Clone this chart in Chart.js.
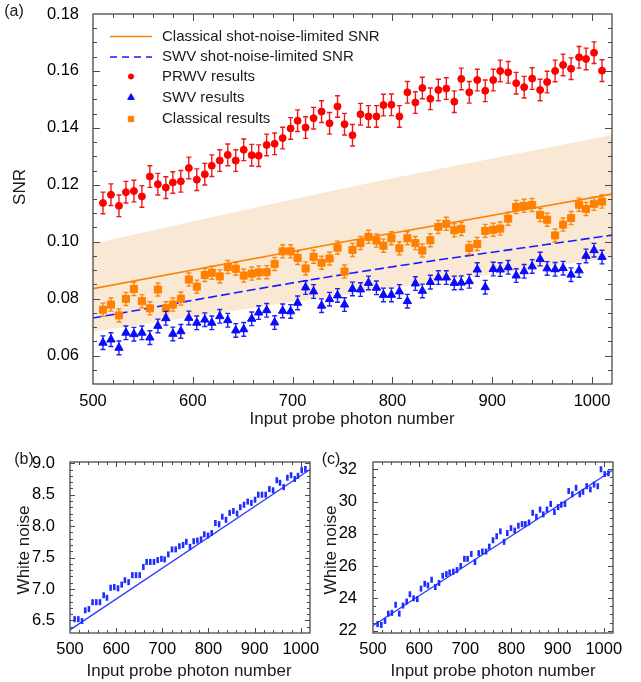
<!DOCTYPE html>
<html>
<head>
<meta charset="utf-8">
<script src="https://cdn.jsdelivr.net/npm/chart.js@4.4.0/dist/chart.umd.min.js"></script>
<style>
body{margin:0;background:#fff;width:641px;height:682px;position:relative;overflow:hidden}
.panel{position:absolute}
</style>
</head>
<body>
<div class="panel" style="left:0;top:0;width:641px;height:440px"><canvas id="snr" width="641" height="440"></canvas></div>
<div class="panel" style="left:0;top:440px;width:320px;height:242px"><canvas id="wnb" width="320" height="242"></canvas></div>
<div class="panel" style="left:320px;top:440px;width:321px;height:242px"><canvas id="wnc" width="321" height="242"></canvas></div>
<script>
const FONT="'Liberation Sans', Arial, Helvetica, sans-serif";
Chart.defaults.font.family=FONT;
Chart.defaults.color='#000';

// input probe photon numbers, shared by the three panels
const photons=[510,518,526,533,541,549,557,565,573,580,588,596,604,612,619,627,635,643,651,659,
  666,674,682,690,698,705,713,721,729,737,745,752,760,768,776,784,791,799,807,815,
  823,830,838,846,854,862,869,877,885,893,901,908,916,924,932,940,948,955,963,971,
  979,987,994,1002,1010];

// (a) measured SNR
const prwv=[0.1136,0.1165,0.1126,0.1174,0.1178,0.1159,0.1229,0.1202,0.1190,0.1208,0.1212,0.1259,0.1218,0.1237,0.1267,0.1285,
  0.1305,0.1285,0.1323,0.1304,0.1302,0.1340,0.1344,0.1364,0.1398,0.1425,0.1401,0.1434,0.1457,0.1416,0.1475,0.1413,
  0.1374,0.1448,0.1440,0.1440,0.1480,0.1481,0.1440,0.1525,0.1489,0.1540,0.1502,0.1533,0.1538,0.1492,0.1572,0.1525,
  0.1568,0.1530,0.1568,0.1600,0.1595,0.1557,0.1543,0.1573,0.1533,0.1561,0.1600,0.1621,0.1608,0.1648,0.1642,0.1664,0.1601];
const classical=[0.0761,0.0779,0.0741,0.0799,0.0834,0.0791,0.0766,0.0832,0.0766,0.0779,0.0800,0.0867,0.0842,0.0883,0.0891,0.0878,
  0.0911,0.0905,0.0881,0.0888,0.0892,0.0893,0.0922,0.0966,0.0966,0.0943,0.0906,0.0947,0.0926,0.0941,0.0979,0.0895,
  0.0971,0.0995,0.1017,0.1004,0.0986,0.1012,0.0977,0.1012,0.0995,0.0969,0.1005,0.1052,0.1063,0.1040,0.1045,0.0978,
  0.0992,0.1038,0.1042,0.1046,0.1081,0.1122,0.1126,0.1129,0.1094,0.1077,0.1022,0.1060,0.1083,0.1130,0.1115,0.1133,0.1141];
const swv=[0.0645,0.0656,0.0627,0.0680,0.0675,0.0680,0.0663,0.0704,0.0731,0.0676,0.0685,0.0732,0.0715,0.0726,0.0715,0.0738,
  0.0724,0.0688,0.0692,0.0729,0.0751,0.0759,0.0716,0.0757,0.0755,0.0785,0.0839,0.0825,0.0775,0.0798,0.0811,0.0779,
  0.0834,0.0832,0.0855,0.0838,0.0813,0.0813,0.0825,0.0791,0.0853,0.0827,0.0858,0.0874,0.0874,0.0855,0.0856,0.0861,
  0.0902,0.0840,0.0904,0.0902,0.0910,0.0881,0.0896,0.0913,0.0939,0.0906,0.0903,0.0907,0.0884,0.0899,0.0950,0.0970,0.0946];
const errPrwv=0.0038, errClassical=0.0023, errSwv=0.0024;

// (a) shot-noise-limited curves and shaded band
const theoryX=[500,760,1020];
const classicalShot=[0.0835,0.1005,0.1167];
const swvShot=[0.0732,0.0890,0.1023];
const bandUpper=[0.0993,0.1194,0.1375];
const bandLower=[0.0684,0.0818,0.0944];

// (b), (c) white noise
const noiseB=[6.52,6.52,6.49,6.66,6.68,6.79,6.79,6.79,6.90,6.86,7.02,7.03,7.01,7.07,7.14,7.11,7.22,7.22,7.22,7.35,
  7.43,7.43,7.43,7.46,7.48,7.47,7.55,7.63,7.63,7.68,7.70,7.75,7.67,7.76,7.77,7.79,7.87,7.85,7.89,8.05,
  8.03,8.15,8.10,8.21,8.24,8.20,8.30,8.34,8.39,8.37,8.42,8.50,8.50,8.50,8.59,8.57,8.73,8.69,8.62,8.77,
  8.81,8.75,8.80,8.89,8.91];
const noiseC=[22.40,22.35,22.60,23.05,23.10,23.60,23.05,23.55,23.80,24.25,24.00,23.95,24.60,24.90,24.80,25.15,24.70,24.95,25.40,25.50,
  25.60,25.65,25.75,26.00,26.45,26.45,26.75,26.25,26.80,26.90,26.90,27.20,27.60,27.85,28.15,27.50,28.05,28.35,28.20,28.50,
  28.60,28.60,28.70,29.30,29.05,29.50,29.20,29.50,29.85,29.35,29.65,29.80,29.85,30.65,30.45,30.85,30.45,30.60,30.95,30.75,
  31.05,30.95,32.00,31.70,31.75];
const fitX=[500,1020];
const fitB=[6.35,8.90];
const fitC=[22.3,31.95];

// tick labels
const photonTicks=[500,600,700,800,900,1000];
const snrTicks=[0.06,0.08,0.10,0.12,0.14,0.16,0.18];
const noiseBTicks=[6.5,7.0,7.5,8.0,8.5,9.0];
const noiseCTicks=[22,24,26,28,30,32];

const pts=(xs,ys)=>xs.map((x,i)=>({x:x,y:ys[i]}));

// error bars drawn just before each dataset's markers
const errorBars={
  id:'errorBars',
  beforeDatasetDraw(chart,args){
    const ds=chart.data.datasets[args.index];
    if(!ds.errors) return;
    const y=chart.scales.y, ctx=chart.ctx;
    ctx.save();
    ctx.strokeStyle=ds.errorColor;
    ctx.lineWidth=1.4;
    args.meta.data.forEach((p,i)=>{
      const v=ds.data[i].y;
      const t=y.getPixelForValue(v+ds.errors), b=y.getPixelForValue(v-ds.errors);
      ctx.beginPath();
      ctx.moveTo(p.x,t); ctx.lineTo(p.x,b);
      ctx.moveTo(p.x-2.5,t); ctx.lineTo(p.x+2.5,t);
      ctx.moveTo(p.x-2.5,b); ctx.lineTo(p.x+2.5,b);
      ctx.stroke();
    });
    ctx.restore();
  }
};

// frame with inward ticks on all four sides
const frame={
  id:'frame',
  afterDatasetsDraw(chart,args,o){
    const {ctx,chartArea:a,scales:{x,y}}=chart;
    const isMajor=(s,v)=>s.ticks.some(t=>Math.abs(t.value-v)<1e-7);
    ctx.save();
    ctx.strokeStyle='#4a4a4a';
    ctx.lineWidth=1.3;
    ctx.strokeRect(a.left,a.top,a.right-a.left,a.bottom-a.top);
    ctx.lineWidth=1;
    ctx.beginPath();
    for(let v=Math.ceil(x.min/o.xStep-1e-6)*o.xStep; v<=x.max+1e-9; v+=o.xStep){
      const px=Math.round(x.getPixelForValue(v))+0.5;
      if(Math.abs(px-a.left)<1.5||Math.abs(px-a.right)<1.5) continue;
      const len=isMajor(x,v)?o.major:o.minor;
      ctx.moveTo(px,a.bottom); ctx.lineTo(px,a.bottom-len);
      ctx.moveTo(px,a.top); ctx.lineTo(px,a.top+len);
    }
    const n=Math.round((y.max-y.min)/o.yStep)+1;
    const y0=Math.ceil(y.min/o.yStep-1e-6);
    for(let k=0;k<=n;k++){
      const v=(y0+k)*o.yStep;
      if(v>y.max+1e-9) break;
      const py=Math.round(y.getPixelForValue(v))+0.5;
      if(Math.abs(py-a.top)<1.5||Math.abs(py-a.bottom)<1.5) continue;
      const len=isMajor(y,v)?o.major:o.minor;
      ctx.moveTo(a.left,py); ctx.lineTo(a.left+len,py);
      ctx.moveTo(a.right,py); ctx.lineTo(a.right-len,py);
    }
    ctx.stroke();
    ctx.restore();
  }
};

// axis titles, panel letters and the inset legend
const texts={
  id:'texts',
  afterDraw(chart,args,o){
    const ctx=chart.ctx;
    ctx.save();
    ctx.fillStyle='#1a1a1a';
    ctx.textBaseline='middle';
    (o.items||[]).forEach(it=>{
      ctx.save();
      ctx.font=(it.size||17)+'px '+FONT;
      ctx.textAlign='center';
      ctx.translate(it.x,it.y);
      if(it.rot) ctx.rotate(it.rot);
      ctx.fillText(it.t,0,0);
      ctx.restore();
    });
    const lg=o.legend;
    if(lg){
      lg.entries.forEach((e,i)=>{
        const ry=lg.rows[i];
        ctx.save();
        if(e.kind==='line'){
          ctx.strokeStyle=e.color; ctx.lineWidth=1.6; ctx.setLineDash(e.dash||[]);
          ctx.beginPath(); ctx.moveTo(lg.x0,ry); ctx.lineTo(lg.x1,ry); ctx.stroke();
        }else{
          ctx.fillStyle=e.color; ctx.strokeStyle=e.color;
          Chart.helpers.drawPoint(ctx,{pointStyle:e.style,radius:e.r,rotation:0,borderWidth:1},lg.mx,ry);
        }
        ctx.restore();
        ctx.font='15px '+FONT;
        ctx.textAlign='left';
        ctx.fillText(e.text,lg.tx,ry);
      });
    }
    ctx.restore();
  }
};

function xAxis(h,pad){
  return {type:'linear',min:500,max:1020,
    afterBuildTicks:s=>{s.ticks=photonTicks.map(v=>({value:v}));},
    afterFit:s=>{s.height=h;s.paddingLeft=0;s.paddingRight=0;},
    grid:{display:false},border:{display:false},
    ticks:{padding:pad,autoSkip:false,maxRotation:0,minRotation:0,font:{size:16.5},color:'#000',
      callback:v=>String(v)}};
}
function yAxis(min,max,vals,w,pad,dec){
  return {type:'linear',min:min,max:max,
    afterBuildTicks:s=>{s.ticks=vals.map(v=>({value:v}));},
    afterFit:s=>{s.width=w;s.paddingTop=0;s.paddingBottom=0;},
    grid:{display:false},border:{display:false},
    ticks:{padding:pad,autoSkip:false,font:{size:16.5},color:'#000',
      callback:v=>Number(v).toFixed(dec)}};
}
const base={responsive:false,animation:false,events:[]};

new Chart(document.getElementById('snr'),{
  type:'scatter',
  data:{datasets:[
    {data:pts(photons,prwv),pointStyle:'circle',pointRadius:3.5,pointBorderWidth:1,
      pointBackgroundColor:'#ff0000',pointBorderColor:'#ff0000',errors:errPrwv,errorColor:'rgba(235,0,0,0.9)'},
    {data:pts(photons,swv),pointStyle:'triangle',pointRadius:4.8,pointBorderWidth:1,
      pointBackgroundColor:'#0a0aff',pointBorderColor:'#0a0aff',errors:errSwv,errorColor:'rgba(10,10,235,0.9)'},
    {data:pts(photons,classical),pointStyle:'rect',pointRadius:5,pointBorderWidth:1,
      pointBackgroundColor:'#ff8000',pointBorderColor:'#ff8000',errors:errClassical,errorColor:'rgba(250,125,0,0.9)'},
    {data:pts(theoryX,classicalShot),showLine:true,pointRadius:0,borderColor:'#ff8000',borderWidth:1.6,
      cubicInterpolationMode:'monotone'},
    {data:pts(theoryX,swvShot),showLine:true,pointRadius:0,borderColor:'#1a1aff',borderWidth:1.6,borderDash:[9,4],
      cubicInterpolationMode:'monotone'},
    {data:pts(theoryX,bandUpper),showLine:true,pointRadius:0,borderWidth:0,borderColor:'rgba(0,0,0,0)',
      backgroundColor:'#f8e8d4',fill:'+1',cubicInterpolationMode:'monotone'},
    {data:pts(theoryX,bandLower),showLine:true,pointRadius:0,borderWidth:0,borderColor:'rgba(0,0,0,0)',
      cubicInterpolationMode:'monotone'}
  ]},
  options:Object.assign({},base,{
    layout:{padding:{left:0,right:29,top:14,bottom:0}},
    scales:{x:xAxis(56,0),y:yAxis(0.05,0.18,snrTicks,93,6,2)},
    plugins:{legend:{display:false},tooltip:{enabled:false},
      frame:{xStep:20,yStep:0.005,major:7,minor:4},
      texts:{
        items:[
          {t:'(a)',x:14,y:12,size:16},
          {t:'SNR',x:20,y:187,rot:-Math.PI/2},
          {t:'Input probe photon number',x:352,y:419}
        ],
        legend:{x0:110,x1:152,mx:131,tx:162,rows:[36.5,57,76.5,97.5,119],
          entries:[
            {kind:'line',color:'#ff8000',text:'Classical shot-noise-limited SNR'},
            {kind:'line',color:'#1a1aff',dash:[7,5],text:'SWV shot-noise-limited SNR'},
            {kind:'point',style:'circle',r:2.6,color:'#ff0000',text:'PRWV results'},
            {kind:'point',style:'triangle',r:3.8,color:'#0a0aff',text:'SWV results'},
            {kind:'point',style:'rect',r:3.8,color:'#ff8000',text:'Classical results'}
          ]}
      }}
  }),
  plugins:[errorBars,frame,texts]
});

function noiseChart(id,vals,fit,ymin,ymax,ticks,dec,yw,rightPad,ypad,yStep,letter,letterX,titleX,xTitleX){
  new Chart(document.getElementById(id),{
    type:'scatter',
    data:{datasets:[
      {data:pts(photons,vals),pointStyle:'line',pointRotation:90,pointRadius:3,pointBorderWidth:2.6,
        pointBorderColor:'#1e2eff',pointBackgroundColor:'#1e2eff'},
      {data:pts(fitX,fit),showLine:true,pointRadius:0,borderColor:'#2a3aff',borderWidth:1.3}
    ]},
    options:Object.assign({},base,{
      layout:{padding:{left:0,right:rightPad,top:22,bottom:0}},
      scales:{x:xAxis(49,-1),y:yAxis(ymin,ymax,ticks,yw,ypad,dec)},
      plugins:{legend:{display:false},tooltip:{enabled:false},
        frame:{xStep:20,yStep:yStep,major:5,minor:3},
        texts:{items:[
          {t:letter,x:letterX,y:20,size:16},
          {t:'White noise',x:titleX,y:110,rot:-Math.PI/2},
          {t:'Input probe photon number',x:xTitleX,y:231}
        ]}}
    }),
    plugins:[frame,texts]
  });
}
noiseChart('wnb',noiseB,fitB,6.3,9.02,noiseBTicks,1,70,10,7,0.1,'(b)',24,24.5,189);
noiseChart('wnc',noiseC,fitC,21.85,32.45,noiseCTicks,0,53,28,8,0.5,'(c)',11,11.5,173);
</script>
</body>
</html>
